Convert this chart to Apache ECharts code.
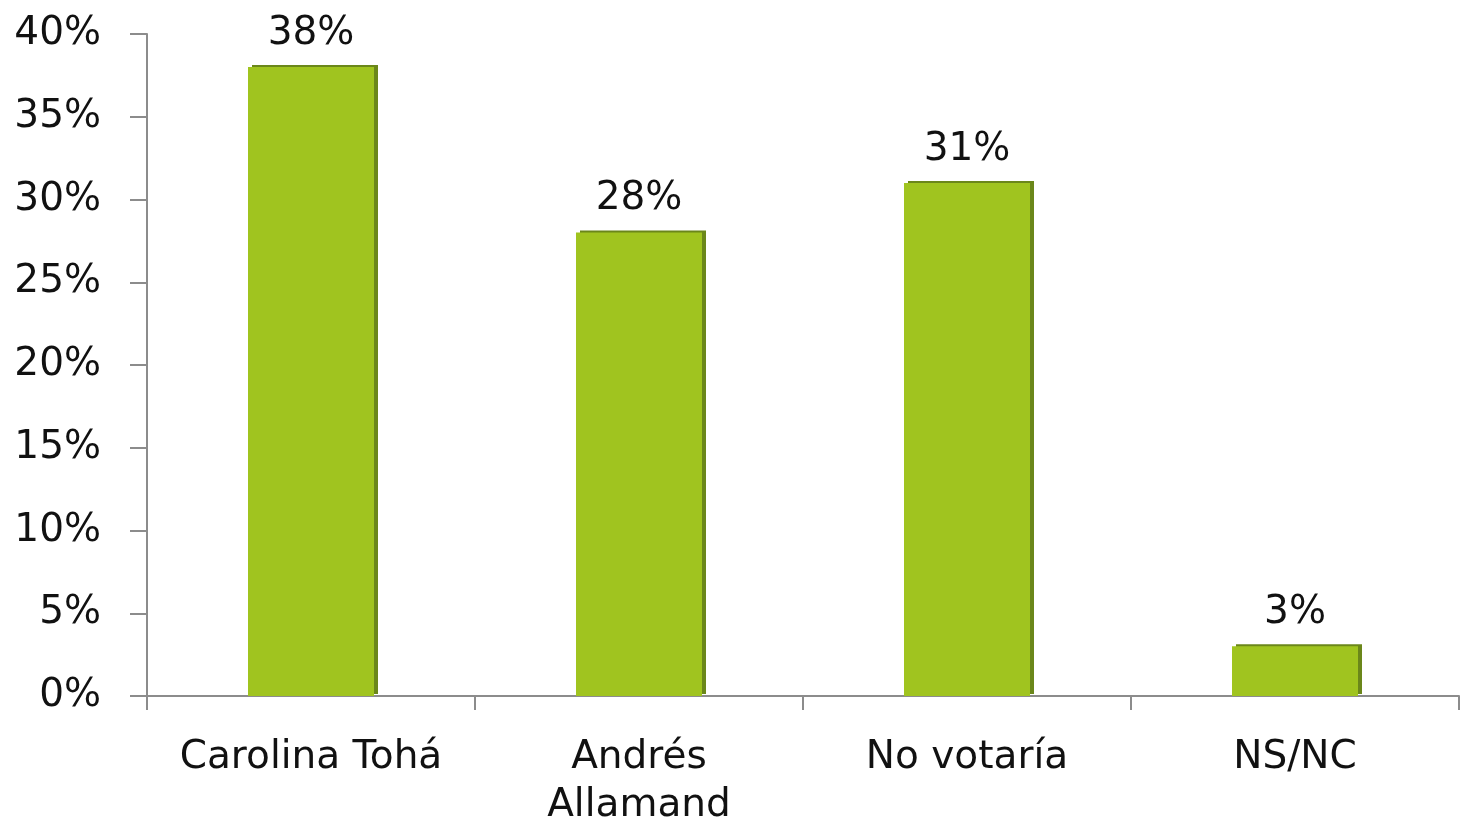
<!DOCTYPE html>
<html>
<head>
<meta charset="utf-8">
<script src="https://cdn.jsdelivr.net/npm/echarts@6/dist/echarts.min.js"></script>
<style>
  html, body { margin: 0; padding: 0; background: #fff; }
  #chart { width: 1464px; height: 824px; }
</style>
</head>
<body>
<div id="chart"></div>
<script>
// data
const categories = ['Carolina Tohá', 'Andrés\nAllamand', 'No votaría', 'NS/NC']
const values = [38, 28, 31, 3]

const font = '"DejaVu Sans", sans-serif'
const axisColor = '#8c8c8c'

const myChart = echarts.init(document.getElementById('chart'))
myChart.setOption({
  animation: false,
  grid: { left: 147, right: 5, top: 34, bottom: 128, containLabel: false, outerBoundsMode: 'none' },
  xAxis: {
    type: 'category',
    data: categories,
    axisLine: { lineStyle: { color: axisColor, width: 2 } },
    axisTick: { show: true, length: 14, lineStyle: { color: axisColor, width: 2 } },
    axisLabel: {
      color: '#111',
      fontFamily: font,
      fontSize: 39,
      lineHeight: 48,
      margin: 38,
      interval: 0
    }
  },
  yAxis: {
    type: 'value',
    min: 0,
    max: 40,
    interval: 5,
    splitLine: { show: false },
    axisLine: { show: true, lineStyle: { color: axisColor, width: 2 } },
    axisTick: { show: true, length: 17, lineStyle: { color: axisColor, width: 2 } },
    axisLabel: {
      color: '#111',
      fontFamily: font,
      fontSize: 39,
      margin: 46,
      formatter: '{value}%'
    }
  },
  series: [{
    type: 'bar',
    data: values,
    barWidth: 126,
    itemStyle: {
      color: '#a0c41f',
      shadowColor: '#6b871a',
      shadowBlur: 0,
      shadowOffsetX: 4,
      shadowOffsetY: -2
    },
    label: {
      show: true,
      position: 'top',
      distance: 14,
      color: '#111',
      fontFamily: font,
      fontSize: 39,
      formatter: '{c}%'
    }
  }]
})
</script>
</body>
</html>
